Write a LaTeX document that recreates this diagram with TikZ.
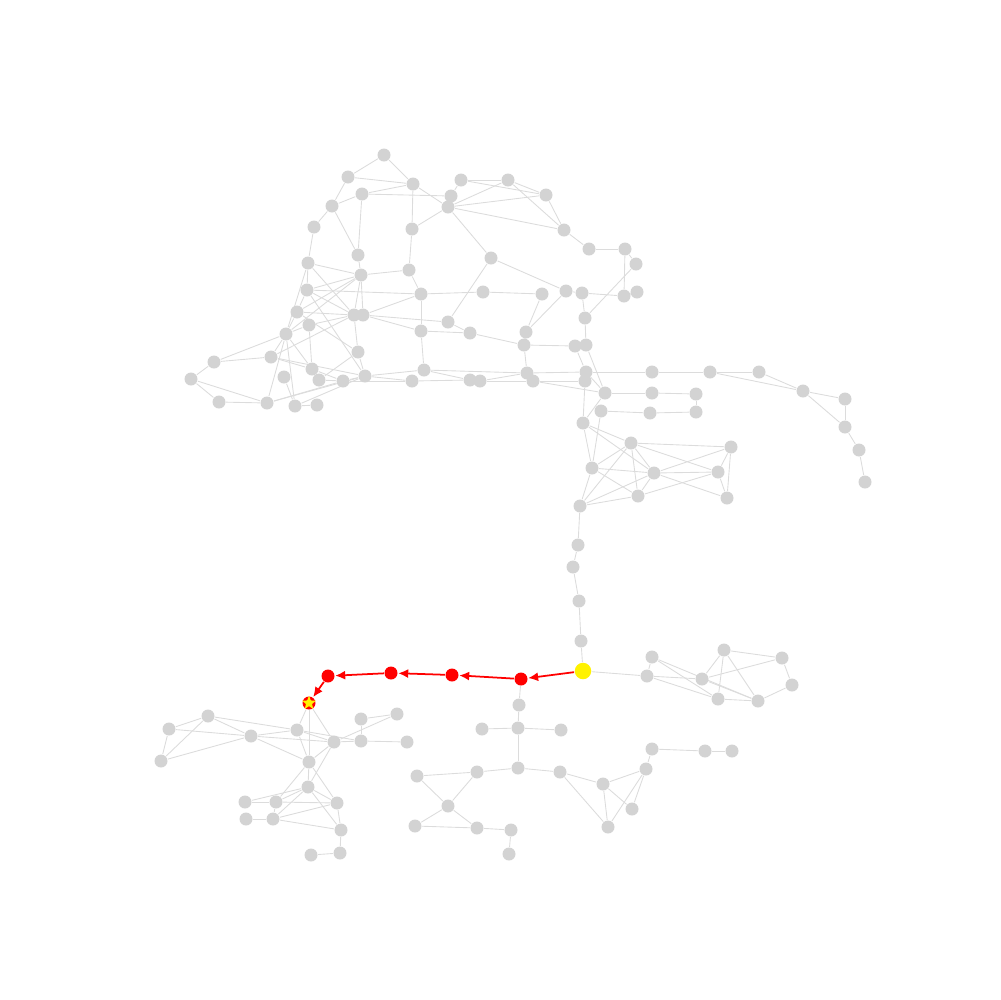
\documentclass[tikz,border=0pt]{standalone}
\usetikzlibrary{arrows.meta,shapes.geometric,backgrounds}
\definecolor{nodegray}{HTML}{D3D3D3}
\definecolor{edgegray}{HTML}{DCDCDC}
\begin{document}
\begin{tikzpicture}[x=0.1mm, y=-0.1mm,
    vtx/.style={circle, fill=nodegray, inner sep=0pt, minimum size=1.3mm},
    hop/.style={circle, fill=red, inner sep=0pt, minimum size=1.3mm},
    edge/.style={draw=edgegray, line width=0.25pt},
    route/.style={draw=red, line width=0.5pt, -{Latex[length=1mm, width=0.9mm]}}]
  \useasboundingbox (0,0) rectangle (1000,1000);
  % gray vertices, pixel positions
  \foreach \n/\x/\y in {
      n1/384/155, n2/348/177, n3/413/184, n4/362/194, n5/332/206, n6/314/227,
      n7/412/229, n8/358/255, n9/308/263, n10/361/275, n11/409/270, n12/307/290,
      n13/421/294, n14/297/312, n15/309/325, n16/354/315, n17/363/315, n18/286/334,
      n19/358/352, n20/214/362, n21/271/357, n22/191/379, n23/312/369, n24/284/377,
      n25/319/380, n26/343/381, n27/365/376, n28/219/402, n29/267/403, n30/295/406,
      n32/317/405, n33/412/381, n34/424/370, n35/448/322, n36/421/331, n37/470/333,
      n38/526/332, n39/524/345, n40/575/346, n41/586/345, n42/470/380, n43/480/381,
      n44/527/373, n45/533/381, n46/586/372, n47/585/381, n48/605/393, n49/601/411,
      n50/583/423, n51/652/372, n52/710/372, n53/759/372, n54/803/391, n55/845/399,
      n56/845/427, n57/859/450, n58/865/482, n59/652/393, n60/696/394, n61/650/413,
      n62/696/412, n63/631/443, n64/731/447, n65/592/468, n66/654/473, n67/718/472,
      n68/638/496, n69/727/498, n70/580/506, n71/578/545, n72/573/567, n73/579/601,
      n74/581/641,
      t1/461/180, t2/508/180, t3/451/196, t4/448/207, t5/546/195, t6/564/230,
      t7/589/249, t8/625/249, t9/636/264, t10/491/258, t11/483/292, t12/542/294,
      t13/566/291, t14/582/293, t15/624/296, t16/637/292, t17/585/318,
      n76/652/657, n77/647/676, n78/702/679, n79/724/650, n80/782/658, n81/792/685,
      n82/718/699, n83/758/701, n84/519/705, n85/518/728, n86/482/729, n87/561/730,
      n88/518/768, n89/477/772, n90/417/776, n91/560/772, n92/448/806, n93/415/826,
      n94/477/828, n95/511/830, n96/509/854, n97/603/784, n98/646/769, n99/652/749,
      n100/705/751, n101/732/751, n102/632/809, n103/608/827,
      m1/208/716, m2/169/729, m3/161/761, m4/251/736, m5/297/730, m6/334/742,
      m7/361/719, m8/397/714, m9/361/741, m10/407/742, m11/309/762, m12/308/787,
      m13/245/802, m14/276/802, m15/337/803, m16/246/819, m17/273/819, m18/341/830,
      m19/340/853, m20/311/855}
    \node[vtx] (\n) at (\x,\y) {};
  % path vertices
  \node[circle, fill=yellow, inner sep=0pt, minimum size=1.65mm] (src) at (583,671) {};
  \node[hop] (h1) at (521,679) {};
  \node[hop] (h2) at (452,675) {};
  \node[hop] (h3) at (391,673) {};
  \node[hop] (h4) at (328,676) {};
  \node[hop] (dst) at (309,703) {};
  \node[star, star points=5, star point ratio=2.3, fill=yellow, inner sep=0pt,
        minimum size=1.45mm] at (dst) {};
  \begin{pgfonlayer}{background}
    \foreach \a/\b in {
        n1/n2, n1/n3, n2/n3, n2/n5, n4/n5, n4/n3, n4/t3, n3/n7, n3/t4, n7/t4,
        n7/n11, n11/n13, n5/n6, n5/n8, n4/n8, n6/n9, n9/n10, n8/n10, n10/n11,
        n10/n12, n10/n14, n10/n18, n9/n16, n9/n12, n9/n18, n10/n16, n10/n17,
        n12/n16, n14/n16, n15/n16, n15/n18, n12/n13, n12/n14, n12/n27, n14/n19,
        n14/n18, n16/n19, n17/n35, n17/n13, n17/n36, n13/n36, n36/n37, n36/n34,
        n35/n37, n37/n39, n35/t10,
        n20/n22, n22/n28, n22/n29, n20/n18, n20/n21, n21/n18, n21/n16, n21/n23,
        n21/n27, n18/n29, n18/n30, n18/n23, n15/n23, n24/n30, n23/n26, n25/n26,
        n26/n27, n19/n27, n19/n25, n28/n29, n29/n27, n29/n26, n30/n27, n30/n32,
        n26/n33, n27/n33, n27/n34,
        n34/n42, n34/n44, n33/n42, n43/n44, n43/n45, n44/n46, n45/n47, n45/n48,
        n39/n44, n38/n39, t12/n38, t13/n38, n39/n40, n40/n41, n40/n46, n41/n48,
        t17/n41, n46/n51, n46/n48, n47/n50, n48/n50, n48/n59, n59/n60, n60/n62,
        n61/n62, n49/n61, n49/n65, n50/n65, n50/n63, n50/n66, n51/n52, n52/n53,
        n52/n54, n53/n54, n54/n55, n54/n56, n55/n56, n56/n57, n57/n58,
        n63/n64, n63/n65, n63/n66, n63/n68, n63/n67, n63/n70, n65/n66, n65/n68,
        n65/n70, n66/n67, n66/n64, n66/n68, n66/n69, n66/n70, n67/n64, n67/n69,
        n64/n69, n68/n67, n68/n70, n70/n71, n71/n72, n72/n73, n73/n74, n74/src,
        t1/t3, t1/t2, t1/t5, t2/t4, t2/t5, t2/t6, t5/t6, t4/t5, t4/t6, t4/t10,
        t6/t7, t7/t8, t8/t9, t8/t15, t9/t17, t10/t13, n13/t11, t11/t12, t14/t15,
        t14/t17, t13/t14, t15/t16,
        src/n77, n76/n77, n76/n82, n76/n83, n77/n78, n77/n82, n78/n79, n78/n80,
        n78/n83, n79/n82, n79/n83, n79/n80, n80/n81, n81/n83, n82/n83,
        h1/n84, n84/n85, n85/n86, n85/n87, n85/n88, n88/n89, n89/n90, n88/n91,
        n89/n92, n90/n92, n92/n93, n92/n94, n93/n94, n94/n95, n95/n96, n91/n97,
        n91/n103, n97/n98, n97/n103, n97/n102, n98/n99, n98/n102, n98/n103,
        n99/n100, n100/n101,
        dst/m5, dst/m6, dst/m11, m1/m2, m1/m3, m1/m4, m1/m5, m2/m3, m2/m4, m3/m4,
        m4/m5, m4/m6, m4/m11, m5/m6, m5/m11, m5/m9, m6/m9, m6/m8, m7/m8, m7/m9,
        m9/m10, m6/m11, m6/m12, m11/m12, m11/m14, m11/m15, m12/m13, m12/m14,
        m12/m15, m12/m17, m12/m18, m13/m14, m14/m15, m14/m17, m16/m17, m17/m15,
        m17/m18, m15/m18, m18/m19, m19/m20}
      \draw[edge] (\a) -- (\b);
  \end{pgfonlayer}
  % the found route
  \foreach \a/\b in {src/h1, h1/h2, h2/h3, h3/h4, h4/dst}
    \draw[route] (\a) -- (\b);
\end{tikzpicture}
\end{document}
